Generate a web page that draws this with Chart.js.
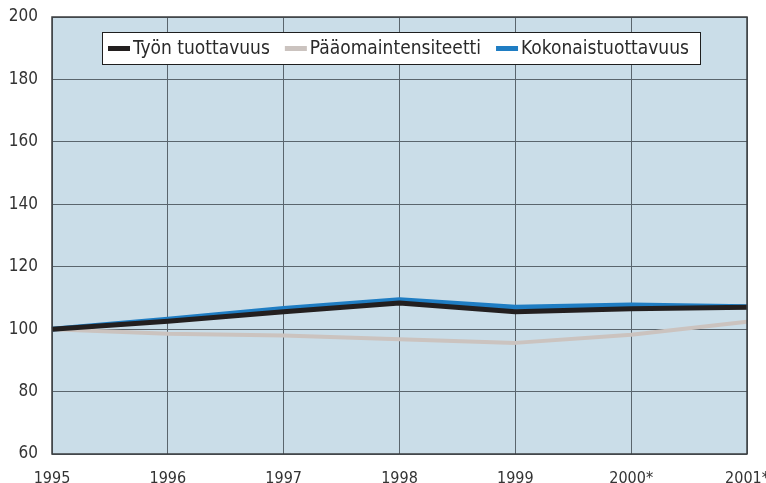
<!DOCTYPE html>
<html lang="fi">
<head>
<meta charset="utf-8">
<title>Tuottavuus 1995-2001</title>
<script src="https://cdn.jsdelivr.net/npm/chart.js@4/dist/chart.umd.min.js"></script>
<style>
    html, body { margin: 0; padding: 0; background: #ffffff; overflow: hidden; }
    #wrap { position: relative; width: 766px; height: 483px; }
</style>
</head>
<body>
<div id="wrap"><canvas id="grafico"></canvas></div>
<script>
// ===================================================================
// DATA
// ===================================================================
const vuodet = ['1995', '1996', '1997', '1998', '1999', '2000*', '2001*'];
const tyonTuottavuus = [100, 102.5, 105.6, 108.4, 105.6, 106.5, 107.0];
const paaomaintensiteetti = [100, 98.5, 98.0, 96.8, 95.6, 98.2, 102.4];
const kokonaistuottavuus = [100, 103.2, 106.6, 109.4, 107.0, 107.7, 107.2];
const yTicks = [60, 80, 100, 120, 140, 160, 180, 200];

const fontti = "'Liberation Sans Narrow', 'DejaVu Sans Condensed', 'Arial Narrow', sans-serif";

// ===================================================================
// PLUGINS
// ===================================================================

// Light blue fill behind the plot area
const taustaPlugin = {
    id: 'tausta',
    beforeDraw(chart) {
        const { ctx, chartArea: a } = chart;
        ctx.save();
        ctx.fillStyle = '#cadde8';
        ctx.fillRect(a.left, a.top, a.right - a.left, a.bottom - a.top);
        ctx.restore();
    },
    afterDatasetsDraw(chart) {
        // dark frame round the plot
        const { ctx, chartArea: a } = chart;
        ctx.save();
        ctx.strokeStyle = '#3b3e40';
        ctx.lineWidth = 1.5;
        ctx.strokeRect(a.left, a.top, a.right - a.left, a.bottom - a.top);
        ctx.restore();
    }
};

// Legend drawn inside the plot, in a white box
const selitePlugin = {
    id: 'selite',
    afterDraw(chart) {
        const ctx = chart.ctx;
        const boxX = 102, boxY = 32, boxW = 598, boxH = 32;
        ctx.save();
        ctx.fillStyle = '#ffffff';
        ctx.fillRect(boxX, boxY, boxW, boxH);
        ctx.strokeStyle = '#1e1e1e';
        ctx.lineWidth = 1;
        ctx.strokeRect(boxX + 0.5, boxY + 0.5, boxW, boxH);

        ctx.font = '19px ' + fontti;
        ctx.textBaseline = 'middle';
        const keskiY = boxY + boxH / 2 + 1;
        let x = boxX + 6;
        chart.data.datasets.forEach(ds => {
            ctx.fillStyle = ds.borderColor;
            ctx.fillRect(x, keskiY - 3, 22, 5);
            x += 25;
            ctx.fillStyle = '#2a2a2a';
            ctx.fillText(ds.label, x, keskiY);
            x += ctx.measureText(ds.label).width + 15;
        });
        ctx.restore();
    }
};

// ===================================================================
// CHART
// ===================================================================
new Chart(document.getElementById('grafico'), {
    type: 'line',
    data: {
        labels: vuodet,
        datasets: [
            {
                label: 'Työn tuottavuus',
                data: tyonTuottavuus,
                borderColor: '#231f1f',
                borderWidth: 5
            },
            {
                label: 'Pääomaintensiteetti',
                data: paaomaintensiteetti,
                borderColor: '#cbc3bf',
                borderWidth: 4
            },
            {
                label: 'Kokonaistuottavuus',
                data: kokonaistuottavuus,
                borderColor: '#1f7dc3',
                borderWidth: 5
            }
        ]
    },
    options: {
        responsive: true,
        maintainAspectRatio: false,
        animation: false,
        layout: { padding: { top: 17, right: 19, left: 0, bottom: 0 } },
        elements: {
            point: { radius: 0, hoverRadius: 0 },
            line: { tension: 0, borderJoinStyle: 'round', borderCapStyle: 'butt' }
        },
        plugins: {
            legend: { display: false },
            tooltip: { enabled: false }
        },
        scales: {
            x: {
                offset: false,
                grid: { color: '#5a656d', lineWidth: 1, drawTicks: false },
                border: { display: false },
                ticks: {
                    color: '#333333',
                    font: { family: fontti, size: 16 },
                    padding: 15,
                    maxRotation: 0,
                    autoSkip: false
                },
                afterFit(scale) {
                    scale.height = 29;
                    scale.paddingLeft = 0;
                    scale.paddingRight = 0;
                }
            },
            y: {
                min: 60,
                max: 200,
                afterBuildTicks(scale) { scale.ticks = yTicks.map(v => ({ value: v })); },
                grid: { color: '#5a656d', lineWidth: 1, drawTicks: false },
                border: { display: false },
                ticks: {
                    color: '#333333',
                    font: { family: fontti, size: 17 },
                    padding: 14
                },
                afterFit(scale) {
                    scale.width = 52;
                    scale.paddingTop = 0;
                    scale.paddingBottom = 0;
                }
            }
        }
    },
    plugins: [taustaPlugin, selitePlugin]
});
</script>
</body>
</html>
